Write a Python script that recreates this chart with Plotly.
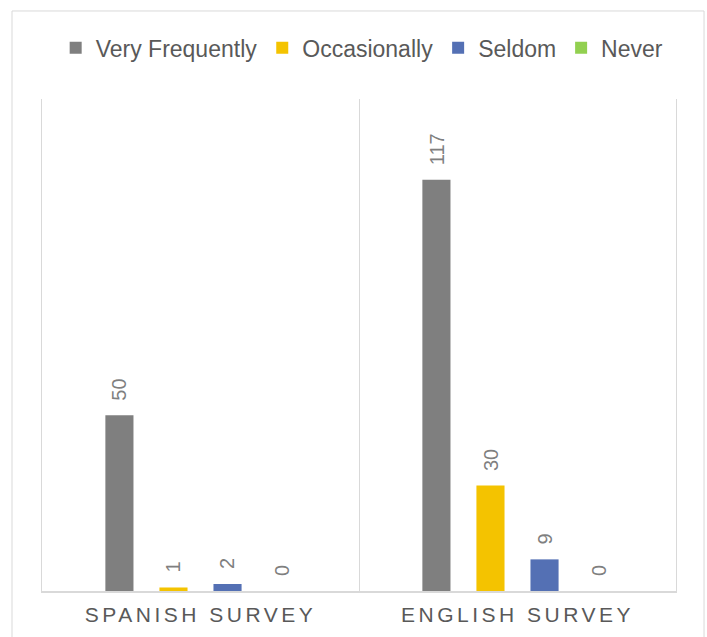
import plotly.graph_objects as go

categories = ["SPANISH SURVEY", "ENGLISH SURVEY"]
series_names = ["Very Frequently", "Occasionally", "Seldom", "Never"]
very_frequently = [50, 117]
occasionally = [1, 30]
seldom = [2, 9]
never = [0, 0]
series_values = [very_frequently, occasionally, seldom, never]
colors = ["#7F7F7F", "#F4C300", "#5470B4", "#92D050"]

BARGAP = 0.318
GROUPGAP = 0.48
n_series = len(series_names)
slot = (1 - BARGAP) / n_series

fig = go.Figure()
for name, vals, col in zip(series_names, series_values, colors):
    fig.add_trace(go.Bar(name=name, x=categories, y=vals, marker=dict(color=col, line=dict(width=0))))

annotations = []
for i, vals in enumerate(series_values):
    for j, v in enumerate(vals):
        annotations.append(dict(
            x=j + (i - (n_series - 1) / 2) * slot, y=v, xref="x", yref="y",
            text=str(v), showarrow=False, textangle=-90,
            xanchor="center", yanchor="bottom", yshift=13,
            font=dict(family="Liberation Sans, Arial", size=20, color="#7F7F7F"),
        ))

fig.update_layout(
    width=707, height=637,
    margin=dict(l=42, r=31, t=99, b=46),
    paper_bgcolor="white", plot_bgcolor="white",
    barmode="group", bargap=BARGAP, bargroupgap=GROUPGAP,
    showlegend=True,
    legend=dict(orientation="h", x=0.505, xanchor="center", y=1.104, yanchor="middle",
                font=dict(family="Liberation Sans, Arial", size=23, color="#595959"),
                itemwidth=30, traceorder="normal"),
    xaxis=dict(type="category", tickson="boundaries", showgrid=True, gridcolor="#D9D9D9", gridwidth=1,
               showline=True, linecolor="#D9D9D9", linewidth=1.5, ticks="", range=[-0.5, 1.5],
               tickfont=dict(family="Liberation Sans, Arial", size=21, color="#595959"),
               ticklabelstandoff=4, automargin=False),
    yaxis=dict(range=[0, 140], showticklabels=False, showgrid=False, zeroline=False,
               showline=True, mirror=True, linecolor="#D9D9D9", linewidth=1, ticks="",
               automargin=False),
    annotations=annotations,
    shapes=[dict(type="rect", xref="paper", yref="paper", x0=-0.0473, x1=1.0442, y0=-0.3, y1=1.1789,
                 line=dict(color="#D9D9D9", width=1), fillcolor="rgba(0,0,0,0)", layer="below")],
)

post = """
var gd = document.getElementsByClassName('plotly-graph-div')[0];
function sp(){ gd.querySelectorAll('.xtick text').forEach(function(t){ t.style.letterSpacing='3.5px'; }); }
sp(); gd.on('plotly_afterplot', sp);
"""
fig.write_html("out.html", post_script=post)
